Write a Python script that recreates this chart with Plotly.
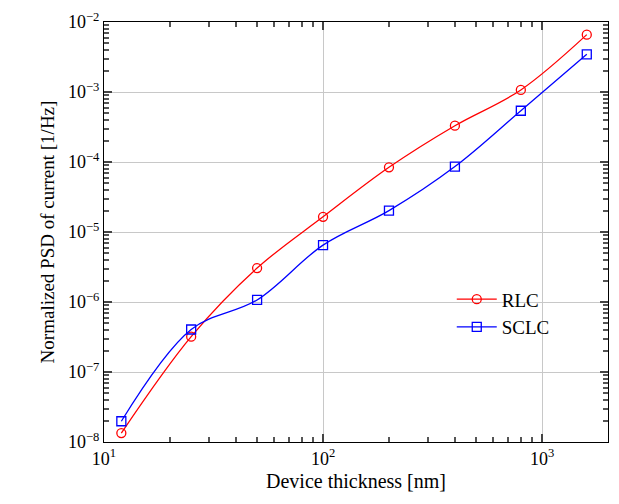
import plotly.graph_objects as go

thickness = [12, 25, 50, 100, 200, 400, 800, 1600]
rlc = [1.34e-8, 3.2e-7, 3.05e-6, 1.65e-5, 8.4e-5, 3.3e-4, 1.07e-3, 6.6e-3]
sclc = [1.98e-8, 4.05e-7, 1.07e-6, 6.5e-6, 2.02e-5, 8.6e-5, 5.4e-4, 3.45e-3]
x_ticks = [10, 100, 1000]
x_ticktext = ["10<sup>1</sup>", "10<sup>2</sup>", "10<sup>3</sup>"]
y_ticks = [1e-8, 1e-7, 1e-6, 1e-5, 1e-4, 1e-3, 1e-2]
y_ticktext = ["10<sup>−8</sup>", "10<sup>−7</sup>", "10<sup>−6</sup>", "10<sup>−5</sup>",
              "10<sup>−4</sup>", "10<sup>−3</sup>", "10<sup>−2</sup>"]

FONT = "Liberation Serif"

fig = go.Figure()
fig.add_trace(go.Scatter(
    x=thickness, y=rlc, name="RLC", mode="lines+markers",
    line=dict(color="red", width=1.3, shape="spline", smoothing=1.0),
    marker=dict(symbol="circle-open", size=9, color="red", line=dict(width=1.3)),
))
fig.add_trace(go.Scatter(
    x=thickness, y=sclc, name="SCLC", mode="lines+markers",
    line=dict(color="blue", width=1.3, shape="spline", smoothing=1.0),
    marker=dict(symbol="square-open", size=9, color="blue", line=dict(width=1.3)),
))

fig.update_xaxes(
    type="log", range=[1, 3.301], tickmode="array", tickvals=x_ticks, ticktext=x_ticktext,
    showline=True, linecolor="black", linewidth=1, mirror="allticks",
    ticks="inside", ticklen=8, tickcolor="#444444", tickwidth=2,
    showgrid=True, gridcolor="#c8c8c8", gridwidth=1, zeroline=False,
    tickfont=dict(family=FONT, size=18, color="black"),
    minor=dict(ticks="inside", ticklen=5, tickcolor="#555555", tickwidth=2, dtick="D1", showgrid=False),
    title=dict(text="Device thickness [nm]", font=dict(family=FONT, size=20, color="black"), standoff=6),
)
fig.update_yaxes(
    type="log", range=[-8, -2], tickmode="array", tickvals=y_ticks, ticktext=y_ticktext,
    showline=True, linecolor="black", linewidth=1, mirror="allticks",
    ticks="inside", ticklen=8, tickcolor="#444444", tickwidth=2,
    showgrid=True, gridcolor="#c8c8c8", gridwidth=1, zeroline=False,
    tickfont=dict(family=FONT, size=18, color="black"),
    minor=dict(ticks="inside", ticklen=5, tickcolor="#555555", tickwidth=2, dtick="D1", showgrid=False),
    title=dict(text="Normalized PSD of current [1/Hz]", font=dict(family=FONT, size=19, color="black"), standoff=8),
)

fig.update_layout(
    width=619, height=504,
    margin=dict(l=104, r=10, t=17, b=62),
    plot_bgcolor="white", paper_bgcolor="white",
    font=dict(family=FONT, size=18, color="black"),
    legend=dict(x=0.69, y=0.385, xanchor="left", yanchor="top",
                bgcolor="rgba(255,255,255,0)", borderwidth=0,
                font=dict(family=FONT, size=19, color="black"),
                itemwidth=40, tracegroupgap=0),
    showlegend=True,
)

fig.write_html("out.html")
